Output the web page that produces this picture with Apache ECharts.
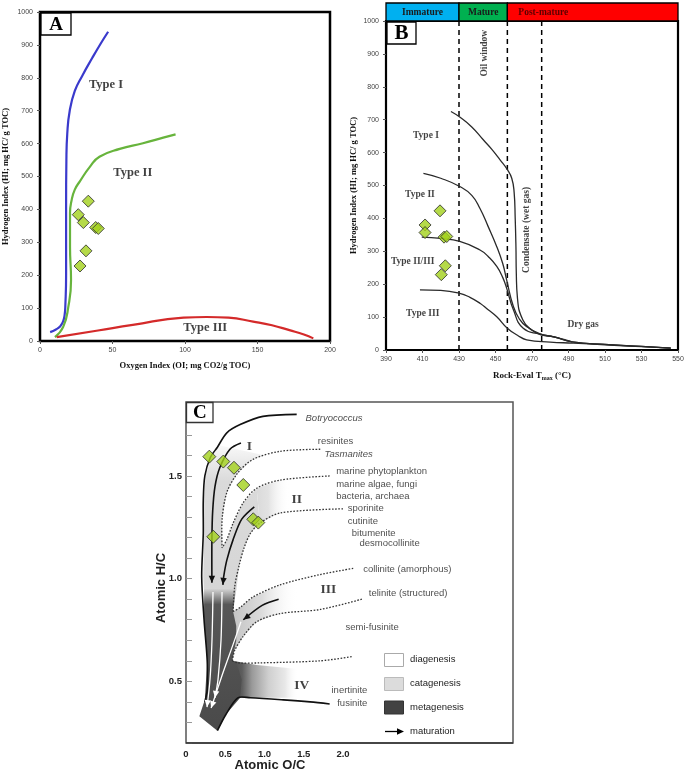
<!DOCTYPE html>
<html><head><meta charset="utf-8">
<script src="https://cdn.jsdelivr.net/npm/echarts@6/dist/echarts.min.js"></script>
<style>html,body{margin:0;padding:0;background:#fff}#c{width:685px;height:773px}</style>
</head><body><div id="c"></div>
<script>
// ===== Panel A: Oxygen Index vs Hydrogen Index =====
const aTypeI = [[7,27],[11,35],[14,45],[16,60],[17,80],[17.5,110],[18,200],[18,400],[18.2,550],[18.8,630],[20.5,700],[24,760],[29,805],[36,860],[42,905],[47,940]];
const aTypeII = [[10.3,12],[16,43],[19.5,103],[21.4,185],[20.7,286],[20.7,389],[21.8,428],[24,460],[27.6,486],[34.5,530],[41,560],[55,584],[71,601],[85,618],[93.5,628]];
const aTypeIII = [[11.5,12],[40,32],[64,49],[99,71],[115,73],[130,71],[147,59],[160,48],[172,33],[182,20],[188.5,8]];
const aSamples = [[33.3,425],[26.4,384],[29.9,360],[38.4,345],[40.2,342],[31.7,274],[27.6,228]];
const aLabelText = ['Type I','Type II','Type III'];
const aLabelPos = [[45.5,778],[64,510],[114,40]];

// ===== Panel B: Tmax vs Hydrogen Index =====
const bStages = ['Immature','Mature','Post-mature'];
const bStageStart = [390,430,456.5];
const bStageEnd = [430,456.5,550];
const bBoundaries = [430,456.5,475.3];
const bTypeI = [[425.6,725],[430.4,708],[437,678],[443.3,639],[448,610],[452.5,578],[456.5,548],[458.9,522],[460.2,480],[460.8,400],[461.2,314],[461.4,233],[462,160],[465,91],[470,60],[475,46],[482,40],[492,25],[510,17],[530,11],[546,6]];
const bTypeII = [[410.5,537],[420,522],[430.4,497],[437,470],[441.5,430],[446,375],[450.7,314],[454,262],[456.1,213],[459.8,132],[463,95],[467.1,71],[474.4,49],[482,40],[492,25],[510,17],[530,11],[546,6]];
const bTypeIIIII = [[409.6,343],[420,339],[430.4,330],[441.5,304],[446,284],[450.7,254],[454,220],[456.1,188],[459.8,122],[465.2,66],[474.4,48],[482,40],[492,25]];
const bTypeIII = [[408.6,183],[420,181],[430.4,172],[436,160],[441.5,142],[446,122],[450.7,101],[456.5,66],[462,45],[467.1,31],[480,24],[492.7,21],[510,16],[530,10],[546,6]];
const bSamples = [[419.6,423],[411.4,380],[411.4,357],[421.8,343],[423.3,345],[422.5,256],[420.3,229]];
const bLabelText = ['Type I','Type II','Type II/III','Type III','Dry gas'];
const bLabelPos = [[411.9,651],[408.6,471],[404.6,269],[410.1,112],[498,76]];
const bVertText = ['Oil window','Condensate (wet gas)'];
const bVertPos = [[444.2,902],[467.1,365]];

// ===== Panel C: van Krevelen (Atomic O/C vs Atomic H/C) =====
const cSamples = [[0.297,1.594],[0.475,1.570],[0.611,1.540],[0.730,1.456],[0.857,1.289],[0.921,1.273],[0.348,1.204]];
const cBotryococcus = [[1.41,1.80],[0.98,1.79],[0.69,1.75],[0.52,1.71],[0.40,1.64],[0.31,1.59],[0.24,1.50],[0.22,1.38],[0.22,1.22],[0.20,1.01],[0.23,0.80],[0.27,0.60],[0.27,0.46],[0.24,0.40]];
const cTypeI = [[0.70,1.66],[0.56,1.63],[0.43,1.54],[0.37,1.45],[0.34,1.33],[0.33,1.19],[0.33,0.98]];
const cTypeII = [[0.87,1.35],[0.71,1.29],[0.60,1.19],[0.52,1.09],[0.48,1.01],[0.47,0.97]];
const cTypeIII = [[1.18,0.90],[0.97,0.87],[0.73,0.80]];
const cTypeIV = [[0.40,0.26],[0.51,0.34],[0.66,0.42],[0.82,0.42],[1.24,0.41],[1.58,0.40],[1.83,0.39]];
const cTasmanites = [[1.71,1.63],[1.20,1.62],[0.85,1.58],[0.65,1.51],[0.52,1.42],[0.46,1.29],[0.46,1.15]];
const cMarine = [[1.83,1.50],[1.20,1.48],[0.90,1.44],[0.73,1.37],[0.60,1.27],[0.52,1.19],[0.46,1.15]];
const cSporinite = [[2.00,1.34],[1.20,1.32],[0.94,1.27],[0.82,1.22],[0.74,1.15],[0.68,1.07],[0.62,0.96],[0.60,0.84]];
const cCollinite = [[2.13,1.05],[1.71,1.02],[1.20,0.97],[0.85,0.91],[0.69,0.86],[0.60,0.84]];
const cTelinite = [[2.24,0.90],[1.71,0.85],[1.20,0.83],[0.90,0.79],[0.73,0.72],[0.62,0.65],[0.59,0.60]];
const cSemiFusinite = [[0.59,0.60],[0.66,0.59],[0.94,0.59],[1.71,0.60],[2.11,0.62]];
const cMat1 = [[0.344,0.935],[0.331,0.70],[0.306,0.51],[0.268,0.375]];
const cMat2 = [[0.459,0.935],[0.446,0.70],[0.408,0.51],[0.369,0.42]];
const cMat3 = [[0.70,0.79],[0.60,0.68],[0.46,0.53],[0.32,0.37]];
const cRegionCatagenesis = [[0.42,1.65],[0.32,1.59],[0.25,1.50],[0.23,1.38],[0.23,1.22],[0.22,1.01],[0.23,0.94],[0.64,0.94],[0.68,1.07],[0.74,1.15],[0.82,1.22],[0.94,1.27],[0.90,1.44],[0.73,1.37],[0.60,1.27],[0.52,1.19],[0.46,1.15],[0.46,1.29],[0.52,1.42],[0.65,1.51],[0.85,1.58],[1.01,1.60]];
const cRegionTypeIIFade = [[0.94,1.27],[1.20,1.32],[1.32,1.33],[1.32,1.485],[1.20,1.48],[0.90,1.44]];
const cRegionTypeIII = [[0.60,0.84],[0.69,0.86],[0.85,0.91],[1.20,0.97],[1.43,0.99],[1.43,0.83],[1.20,0.83],[0.90,0.79],[0.73,0.72],[0.62,0.65],[0.59,0.61]];
const cRegionTypeIV = [[0.59,0.60],[0.90,0.58],[1.43,0.56],[1.43,0.42],[0.66,0.42]];
const cRegionMetagenesis = [[0.23,0.95],[0.64,0.95],[0.62,0.90],[0.60,0.84],[0.64,0.77],[0.64,0.70],[0.61,0.64],[0.59,0.60],[0.66,0.57],[0.71,0.51],[0.69,0.42],[0.51,0.34],[0.40,0.26],[0.17,0.33],[0.24,0.41],[0.27,0.60],[0.23,0.80]];
const cLabelText = ['Botryococcus','resinites','Tasmanites','marine phytoplankton','marine algae, fungi','bacteria, archaea','sporinite','cutinite','bitumenite','desmocollinite','collinite (amorphous)','telinite (structured)','semi-fusinite','inertinite','fusinite'];
const cLabelPos = [[1.516,1.781],[1.673,1.670],[1.758,1.606],[1.907,1.521],[1.907,1.459],[1.907,1.399],[2.055,1.343],[2.055,1.281],[2.106,1.221],[2.204,1.172],[2.251,1.047],[2.322,0.929],[2.025,0.761],[1.847,0.458],[1.920,0.393]];
const cItalic = ['Botryococcus','Tasmanites'];
const cTypeText = ['I','II','III','IV'];
const cTypePos = [[0.806,1.643],[1.41,1.383],[1.813,0.945],[1.474,0.482]];
const cLegend = ['diagenesis','catagenesis','metagenesis','maturation'];

// ===== build =====
const SERIF = '"Liberation Serif","DejaVu Serif",serif';
const SANS = '"Liberation Sans",Arial,sans-serif';
const chart = echarts.init(document.getElementById('c'));
const G = echarts.graphic;

function items(texts, pos){ return texts.map((t,i)=>({name:t, value:pos[i]})); }
function textSeries(ax, data, label){
  return {type:'scatter', xAxisIndex:ax, yAxisIndex:ax, symbolSize:1, silent:true, z:30,
    itemStyle:{color:'rgba(0,0,0,0)'}, data:data,
    label:Object.assign({show:true, formatter:'{b}', position:'inside', color:'#111'}, label)};
}
function line(ax, data, color, width, extra){
  return Object.assign({type:'line', xAxisIndex:ax, yAxisIndex:ax, data:data, smooth:true, showSymbol:false, silent:true, z:5,
    lineStyle:{color:color, width:width}}, extra||{});
}
function diamonds(ax, data, size){
  return {type:'scatter', xAxisIndex:ax, yAxisIndex:ax, data:data, symbol:'diamond', symbolSize:size, silent:true, z:10,
    itemStyle:{color:'#a3d11b', borderColor:'#2a2a2a', borderWidth:1}};
}
function cCurve(pts, color, width, dash, arrow, z){
  return {type:'custom', xAxisIndex:2, yAxisIndex:2, silent:true, z:z, clip:false, data:[pts[0]],
    renderItem:function(params, api){
      const p = pts.map(d=>api.coord(d));
      const ch = [{type:'polyline', shape:{points:p, smooth:0.3}, style:{stroke:color, lineWidth:width, lineDash:dash||null, fill:null}}];
      if(arrow){
        const a=p[p.length-2], b=p[p.length-1];
        const ang=Math.atan2(b[1]-a[1], b[0]-a[0]);
        const L=7, W=3.2;
        const bx=b[0]-L*Math.cos(ang), by=b[1]-L*Math.sin(ang);
        const px=-Math.sin(ang)*W, py=Math.cos(ang)*W;
        ch.push({type:'polygon', shape:{points:[b,[bx+px,by+py],[bx-px,by-py]]}, style:{fill:color}});
      }
      return {type:'group', children:ch};
    }};
}
function cRegion(pts, fill, z){
  return {type:'custom', xAxisIndex:2, yAxisIndex:2, silent:true, z:z, clip:false, data:[pts[0]],
    renderItem:function(params, api){
      return {type:'polygon', shape:{points:pts.map(d=>api.coord(d))}, style:{fill:fill}};
    }};
}
const plain = v=>String(v);
const tickLab = {fontSize:7, color:'#444', fontFamily:SANS, formatter:plain};
const stageColors = ['#00b0f0','#00b050','#ff0000'];
const stageText = ['#1a1a1a','#1a1a1a','#5c0000'];

const series = [];
// Panel A
series.push(line(0, aTypeI, '#3a3acc', 2.2));
series.push(line(0, aTypeII, '#67b43c', 2.2));
series.push(line(0, aTypeIII, '#d42a2a', 2.2));
series.push(diamonds(0, aSamples, 12));
series.push(textSeries(0, items(aLabelText, aLabelPos), {fontFamily:SERIF, fontWeight:'bold', fontSize:12.5}));
// Panel B
bBoundaries.forEach(v=>series.push({type:'line', xAxisIndex:1, yAxisIndex:1, data:[[v,0],[v,1000]], showSymbol:false, silent:true, z:4,
  lineStyle:{color:'#000', width:1.5, type:[5,4]}}));
[bTypeI,bTypeII,bTypeIIIII,bTypeIII].forEach(d=>series.push(line(1, d, '#2a2a2a', 1.3)));
series.push(diamonds(1, bSamples, 12));
series.push(textSeries(1, items(bLabelText, bLabelPos), {fontFamily:SERIF, fontWeight:'bold', fontSize:9.5}));
series.push(textSeries(1, items(bVertText, bVertPos), {fontFamily:SERIF, fontWeight:'bold', fontSize:9.5, rotate:90}));
series.push({type:'custom', xAxisIndex:3, yAxisIndex:3, silent:true, z:5, clip:false,
  data:bStages.map((s,i)=>[bStageStart[i], bStageEnd[i]]),
  encode:{x:[0,1]},
  renderItem:function(params, api){
    const i=params.dataIndex;
    const p0=api.coord([api.value(0),1]), p1=api.coord([api.value(1),0]);
    const isLast = i===bStages.length-1;
    return {type:'group', children:[
      {type:'rect', shape:{x:p0[0], y:p0[1], width:p1[0]-p0[0], height:p1[1]-p0[1]}, style:{fill:stageColors[i], stroke:'#000', lineWidth:1.3}},
      {type:'text', x:isLast? p0[0]+11 : (p0[0]+p1[0])/2, y:(p0[1]+p1[1])/2+0.5,
        style:{text:bStages[i], fill:stageText[i], font:'bold 9.5px '+SERIF, align:isLast?'left':'center', verticalAlign:'middle'}}
    ]};
  }});
// Panel C regions
series.push(cRegion(cRegionCatagenesis, new G.LinearGradient(0,0,0,1,[{offset:0,color:'rgba(215,215,215,0.15)'},{offset:0.25,color:'#dadada'},{offset:1,color:'#d6d6d6'}]), 1));
series.push(cRegion(cRegionTypeIIFade, new G.LinearGradient(0,0,1,0,[{offset:0,color:'#dadada'},{offset:0.35,color:'#e2e2e2'},{offset:1,color:'rgba(255,255,255,0)'}]), 1));
series.push(cRegion(cRegionTypeIII, new G.LinearGradient(0,0,1,0,[{offset:0,color:'#c4c4c4'},{offset:0.45,color:'#dcdcdc'},{offset:1,color:'rgba(255,255,255,0)'}]), 1));
series.push(cRegion(cRegionTypeIV, new G.LinearGradient(0,0,1,0,[{offset:0,color:'#4a4a4a'},{offset:0.15,color:'#5e5e5e'},{offset:0.3,color:'#9a9a9a'},{offset:0.55,color:'#cfcfcf'},{offset:0.8,color:'#e8e8e8'},{offset:1,color:'rgba(255,255,255,0)'}]), 1));
series.push(cRegion(cRegionMetagenesis, new G.LinearGradient(0,0,0,1,[{offset:0,color:'#d3d3d3'},{offset:0.11,color:'#575757'},{offset:1,color:'#4a4a4a'}]), 2));
// Panel C curves
[cTasmanites,cMarine,cSporinite,cCollinite,cTelinite,cSemiFusinite].forEach(d=>series.push(cCurve(d,'#333',1.3,[1.6,1.6],false,5)));
series.push(cCurve(cBotryococcus,'#111',1.6,null,false,6));
series.push(cCurve(cTypeIV,'#111',1.6,null,false,6));
series.push(cCurve(cTypeI,'#111',1.6,null,true,6));
series.push(cCurve(cTypeII,'#111',1.6,null,true,6));
series.push(cCurve(cTypeIII,'#111',1.6,null,true,6));
[cMat1,cMat2,cMat3].forEach(d=>series.push(cCurve(d,'#fff',1.3,null,true,7)));
series.push(diamonds(2, cSamples, 13));
series.push(textSeries(2, cLabelText.map((t,i)=>({name:t, value:cLabelPos[i], label:{fontStyle: cItalic.includes(t)?'italic':'normal'}})),
  {position:'right', distance:0, fontFamily:SANS, fontSize:9.5, color:'#222'}));
series.push(textSeries(2, items(cTypeText, cTypePos), {fontFamily:SERIF, fontWeight:'bold', fontSize:13.5, color:'#111'}));

function box(x,y,w,h,letter,size,stroke){
  return [{type:'rect', z:100, shape:{x:x,y:y,width:w,height:h}, style:{fill:'#fff', stroke:stroke, lineWidth:1.3}},
          {type:'text', z:101, x:x+w/2, y:y+h/2+1, style:{text:letter, font:'bold '+size+'px '+SERIF, fill:'#000', align:'center', verticalAlign:'middle'}}];
}
const graphic = [].concat(
  box(41,13,30,22,'A',19,'#000'),
  box(387,22,29,22,'B',21,'#000'),
  box(186.5,402.5,26.5,20,'C',19,'#333'),
  [
    {type:'text', z:100, x:270, y:765, style:{text:'Atomic O/C', font:'bold 13px '+SANS, fill:'#222', align:'center', verticalAlign:'middle'}},
    {type:'text', z:100, x:161, y:588, rotation:Math.PI/2, style:{text:'Atomic H/C', font:'bold 13px '+SANS, fill:'#222', align:'center', verticalAlign:'middle'}},
    {type:'rect', z:100, shape:{x:384.5,y:653.5,width:19,height:13}, style:{fill:'#fff', stroke:'#aaa', lineWidth:1}},
    {type:'rect', z:100, shape:{x:384.5,y:677.5,width:19,height:13}, style:{fill:'#dcdcdc', stroke:'#bbb', lineWidth:1}},
    {type:'rect', z:100, shape:{x:384.5,y:701,width:19,height:13}, style:{fill:'#424242', stroke:'#333', lineWidth:1}},
    {type:'line', z:100, shape:{x1:385,y1:731.5,x2:398,y2:731.5}, style:{stroke:'#000', lineWidth:1.3}},
    {type:'polygon', z:100, shape:{points:[[404,731.5],[397,728.3],[397,734.7]]}, style:{fill:'#000'}},
    {type:'line', z:100, shape:{x1:186,y1:743,x2:513,y2:743}, style:{stroke:'#333', lineWidth:1.6}}
  ],
  cLegend.map((t,i)=>({type:'text', z:100, x:410, y:[659.5,683.5,707,731.5][i], style:{text:t, font:'9.5px '+SANS, fill:'#222', align:'left', verticalAlign:'middle'}}))
);

const nameStyle = {fontFamily:SERIF, fontWeight:'bold', fontSize:8.5, color:'#111'};
const option = {
  backgroundColor:'#fff',
  animation:false,
  grid:[
    {left:40, top:12, width:290, height:329, show:true, borderColor:'#000', borderWidth:2.5, backgroundColor:'rgba(0,0,0,0)', outerBoundsMode:'none'},
    {left:386, top:21, width:292, height:329, show:true, borderColor:'#000', borderWidth:2.2, backgroundColor:'rgba(0,0,0,0)', outerBoundsMode:'none'},
    {left:186, top:402, width:327, height:341, show:true, borderColor:'#555', borderWidth:1.5, backgroundColor:'rgba(0,0,0,0)', outerBoundsMode:'none'},
    {left:386, top:3, width:292, height:18, show:false, outerBoundsMode:'none'}
  ],
  xAxis:[
    {gridIndex:0, type:'value', min:0, max:200, interval:50, axisLine:{show:false}, splitLine:{show:false},
      axisTick:{show:true, length:3, lineStyle:{color:'#555'}}, axisLabel:Object.assign({margin:6}, tickLab),
      name:'Oxygen Index (OI; mg CO2/g TOC)', nameLocation:'middle', nameGap:20, nameTextStyle:nameStyle},
    {gridIndex:1, type:'value', min:390, max:550, interval:20, axisLine:{show:false}, splitLine:{show:false},
      axisTick:{show:true, length:3, lineStyle:{color:'#555'}}, axisLabel:Object.assign({margin:6}, tickLab),
      name:'Rock-Eval T{s|max} (°C)', nameLocation:'middle', nameGap:20,
      nameTextStyle:Object.assign({}, nameStyle, {fontSize:9, rich:{s:{fontFamily:SERIF, fontWeight:'bold', fontSize:6, color:'#111', padding:[5,0,0,0]}}})},
    {gridIndex:2, type:'value', min:0, max:327/78.5, interval:0.5, axisLine:{show:false}, splitLine:{show:false},
      axisTick:{show:false},
      axisLabel:{margin:6, fontSize:9.5, fontWeight:'bold', color:'#222', fontFamily:SANS,
        formatter:function(v){ if(v>2.0001) return ''; return v===0?'0':v.toFixed(1);} }},
    {gridIndex:3, type:'value', min:390, max:550, show:false}
  ],
  yAxis:[
    {gridIndex:0, type:'value', min:0, max:1000, interval:100, axisLine:{show:false}, splitLine:{show:false},
      axisTick:{show:true, length:3, lineStyle:{color:'#555'}}, axisLabel:Object.assign({margin:7}, tickLab),
      name:'Hydrogen Index (HI; mg HC/ g TOC)', nameLocation:'middle', nameGap:30, nameTextStyle:nameStyle},
    {gridIndex:1, type:'value', min:0, max:1000, interval:100, axisLine:{show:false}, splitLine:{show:false},
      axisTick:{show:true, length:3, lineStyle:{color:'#555'}}, axisLabel:Object.assign({margin:7}, tickLab),
      name:'Hydrogen Index (HI; mg HC/ g TOC)', nameLocation:'middle', nameGap:28, nameTextStyle:nameStyle},
    {gridIndex:2, type:'value', min:0.2, max:1.86, interval:0.1, axisLine:{show:false}, splitLine:{show:false},
      axisTick:{show:true, inside:true, length:6, lineStyle:{color:'#999'}},
      axisLabel:{margin:4, fontSize:9.5, fontWeight:'bold', color:'#222', fontFamily:SANS,
        formatter:function(v){ const r=Math.round(v*10)/10; return (Math.abs(v-r)<1e-6 && (r===0.5||r===1||r===1.5))? r.toFixed(1):''; }}},
    {gridIndex:3, type:'value', min:0, max:1, show:false}
  ],
  series:series,
  graphic:graphic
};
chart.setOption(option);
</script></body></html>
